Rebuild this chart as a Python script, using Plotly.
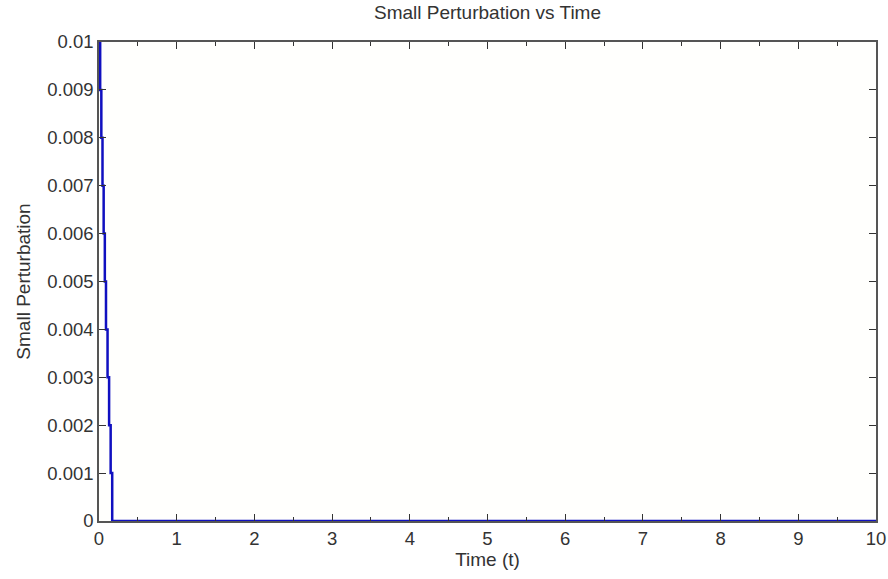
import plotly.graph_objects as go

# Data (staircase decay)
time_t = [0, 0.015, 0.03, 0.045, 0.06, 0.075, 0.09, 0.11, 0.13, 0.15, 0.17, 10]
perturbation = [0.01, 0.009, 0.008, 0.007, 0.006, 0.005, 0.004, 0.003, 0.002, 0.001, 0, 0]

x_ticks = list(range(0, 11))
y_tick_vals = [0, 0.001, 0.002, 0.003, 0.004, 0.005, 0.006, 0.007, 0.008, 0.009, 0.01]
y_tick_text = ["0", "0.001", "0.002", "0.003", "0.004", "0.005", "0.006", "0.007", "0.008", "0.009", "0.01"]

fig = go.Figure()
fig.add_trace(go.Scatter(
    x=time_t, y=perturbation, mode="lines", line_shape="hv",
    line=dict(color="#1010c0", width=2.5), showlegend=False,
))

fam = "Liberation Sans, Arial, sans-serif"
tickfont = dict(family=fam, size=18.5, color="#333")
labfont = dict(family=fam, size=19, color="#333")

fig.update_layout(
    width=888, height=579,
    margin=dict(l=99, r=12, t=42, b=58, autoexpand=False),
    paper_bgcolor="white", plot_bgcolor="#fffffd",
    font=tickfont,
    title=dict(text="Small Perturbation vs Time", x=0.549, xanchor="center",
               y=0.99, yanchor="top", font=dict(family=fam, size=19, color="#333")),
)
fig.update_xaxes(
    range=[0, 10], tickvals=x_ticks, ticktext=[str(v) for v in x_ticks],
    ticks="inside", ticklen=7, tickcolor="#333", showline=True, linecolor="#555",
    linewidth=1.5, mirror="allticks", showgrid=False, zeroline=False, automargin=False,
    minor=dict(dtick=0.5, ticks="inside", ticklen=4, tickcolor="#333", showgrid=False),
    title=dict(text="Time (t)", standoff=0, font=labfont), tickfont=tickfont,
)
fig.update_yaxes(
    range=[0, 0.01], tickvals=y_tick_vals, ticktext=y_tick_text,
    ticks="inside", ticklen=7, tickcolor="#333", showline=True, linecolor="#555",
    linewidth=1.5, mirror="allticks", showgrid=False, zeroline=False, automargin=False,
    title=dict(text="Small Perturbation", standoff=12, font=labfont),
    tickfont=tickfont,
)

fig.write_html("out.html")
